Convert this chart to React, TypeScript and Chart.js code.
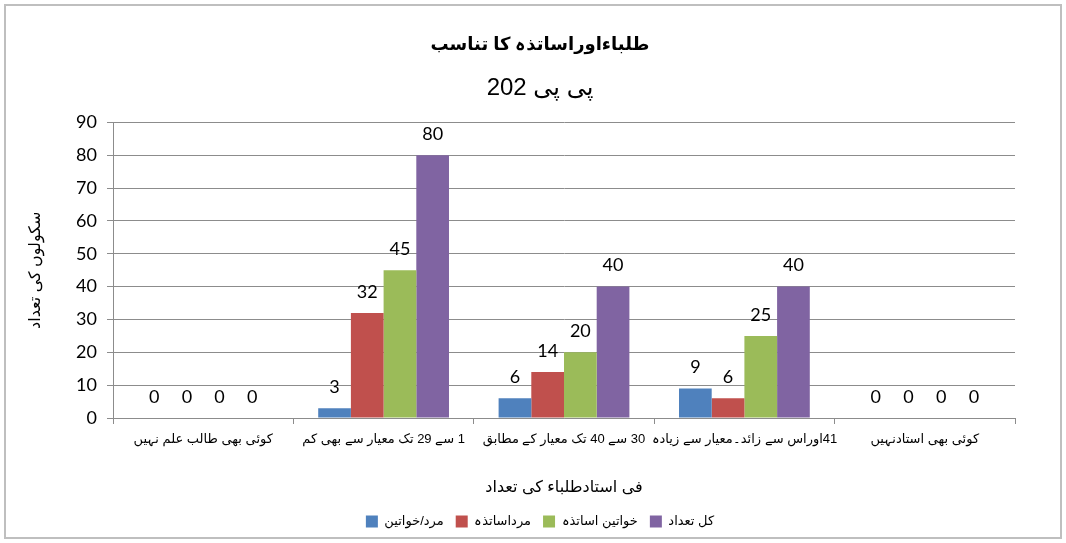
import React, { useEffect, useRef } from 'react';
import { Chart, registerables } from 'chart.js';

Chart.register(...registerables);

const titleText = 'طلباءاوراساتذہ کا تناسب';
const subtitleText = 'پی پی 202';
const xAxisTitle = 'فی استادطلباء کی تعداد';
const yAxisTitle = 'سکولوں کی تعداد';

const categories = [
  'کوئی بھی طالب علم نہیں',
  '1 سے 29 تک معیار سے بھی کم',
  '30 سے 40 تک معیار کے مطابق',
  '41اوراس سے زائد۔معیار سے زیادہ',
  'کوئی بھی استادنہیں',
];

const seriesNames = ['مرد/خواتین', 'مرداساتذہ', 'خواتین اساتذہ', 'کل تعداد'];
const mixedValues = [0, 3, 6, 9, 0];
const maleTeacherValues = [0, 32, 14, 6, 0];
const femaleTeacherValues = [0, 45, 20, 25, 0];
const totalValues = [0, 80, 40, 40, 0];

const yMin = 0;
const yMax = 90;
const yStep = 10;

const seriesColors = ['#4F81BD', '#C0504D', '#9BBB59', '#8064A2'];

const URDU_FONT = "'Liberation Sans', 'DejaVu Sans', sans-serif";
const NUM_FONT = "Lato, 'Liberation Sans', sans-serif";
const GRID = '#8c8c8c';
const PAD_LEFT = 65;

const framePlugin = {
  id: 'frame',
  beforeDraw(chart: any) {
    const ctx = chart.ctx;
    ctx.save();
    ctx.fillStyle = '#ffffff';
    ctx.fillRect(0, 0, chart.width, chart.height);
    ctx.strokeStyle = '#bfbfbf';
    ctx.lineWidth = 2;
    ctx.strokeRect(5, 5, 1056, 533);
    ctx.restore();
  },
};

const valueLabelPlugin = {
  id: 'valueLabels',
  afterDatasetsDraw(chart: any) {
    const ctx = chart.ctx;
    ctx.save();
    ctx.font = `18px ${NUM_FONT}`;
    ctx.fillStyle = '#000';
    ctx.textAlign = 'center';
    ctx.textBaseline = 'middle';
    chart.data.datasets.forEach((ds: any, i: number) => {
      const meta = chart.getDatasetMeta(i);
      meta.data.forEach((bar: any, j: number) => {
        ctx.fillText(String(ds.data[j]), bar.x, bar.y - 21);
      });
    });
    ctx.restore();
  },
};

export default function App() {
  const ref = useRef<HTMLCanvasElement | null>(null);

  useEffect(() => {
    if (!ref.current) return;
    const seriesValues = [mixedValues, maleTeacherValues, femaleTeacherValues, totalValues];
    const chart = new Chart(ref.current, {
      type: 'bar',
      data: {
        labels: categories,
        datasets: seriesNames.map((name, i) => ({
          label: name,
          data: seriesValues[i],
          backgroundColor: seriesColors[i],
          borderWidth: 0,
          categoryPercentage: 0.725,
          barPercentage: 1,
        })),
      },
      options: {
        responsive: false,
        devicePixelRatio: 1,
        animation: false,
        layout: { padding: { top: 0, left: PAD_LEFT, right: 51, bottom: 5 } },
        plugins: {
          title: {
            display: true,
            text: titleText,
            color: '#000',
            font: { family: URDU_FONT, size: 18, weight: 'bold' },
            padding: { top: 34, bottom: 0 },
          },
          subtitle: {
            display: true,
            text: subtitleText,
            color: '#000',
            font: { family: URDU_FONT, size: 24, weight: 'normal' },
            padding: { top: 18, bottom: 20 },
          },
          legend: {
            display: true,
            position: 'bottom',
            labels: {
              boxWidth: 12,
              boxHeight: 12,
              padding: 12,
              color: '#000',
              font: { family: URDU_FONT, size: 13 },
            },
          },
          tooltip: { enabled: false },
        },
        scales: {
          x: {
            grid: {
              display: true,
              drawOnChartArea: false,
              drawTicks: true,
              tickLength: 6,
              color: GRID,
              offset: true,
            },
            border: { color: GRID },
            ticks: {
              color: '#000',
              font: { family: URDU_FONT, size: 13 },
              padding: 8,
              maxRotation: 0,
              autoSkip: false,
            },
            title: {
              display: true,
              text: xAxisTitle,
              color: '#000',
              font: { family: URDU_FONT, size: 16 },
              padding: { top: 0, bottom: 6 },
            },
            afterFit: (s: any) => {
              s.height = 85;
            },
          },
          y: {
            min: yMin,
            max: yMax,
            ticks: {
              stepSize: yStep,
              color: '#000',
              font: { family: NUM_FONT, size: 18 },
              padding: 10,
            },
            grid: { color: GRID, tickLength: 6, drawTicks: true },
            border: { color: GRID },
            title: {
              display: true,
              text: yAxisTitle,
              color: '#000',
              font: { family: URDU_FONT, size: 16 },
              padding: { top: 36 - PAD_LEFT - 9.6, bottom: 0 },
            },
            afterFit: (s: any) => {
              s.width = 113 - PAD_LEFT;
            },
          },
        },
      } as any,
      plugins: [framePlugin, valueLabelPlugin],
    });
    return () => chart.destroy();
  }, []);

  return (
    <div style={{ position: 'fixed', left: 0, top: 0, width: 1066, height: 543, background: '#fff' }}>
      <canvas ref={ref} width={1066} height={543} dir="rtl" style={{ display: 'block' }} />
    </div>
  );
}
